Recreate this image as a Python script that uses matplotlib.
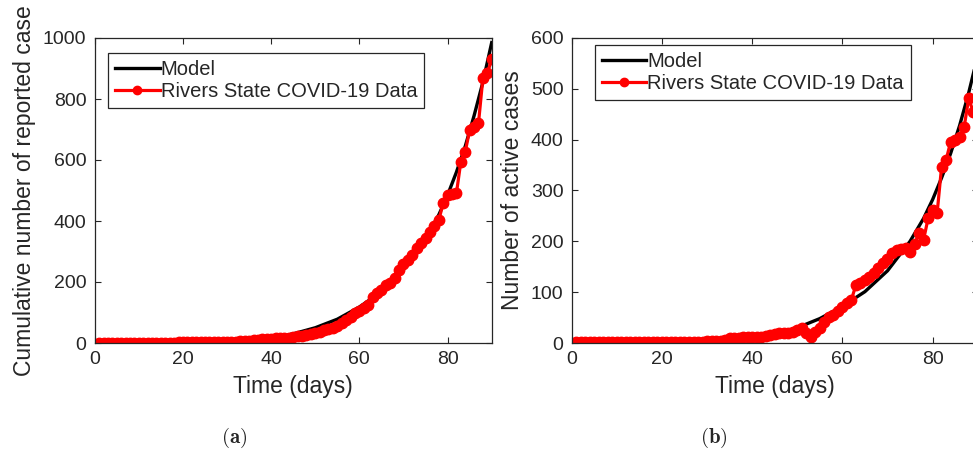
import numpy as np
import matplotlib
matplotlib.use('Agg')
import matplotlib.pyplot as plt

plt.rcParams['font.family'] = ['Liberation Sans', 'DejaVu Sans']
plt.rcParams['mathtext.fontset'] = 'cm'

TXT = '#262626'

# ---------------- data ----------------
days = np.arange(1, 91)

cum_cases = [1, 1, 1, 1, 1, 1, 1, 1, 1, 1,
             1, 1, 1, 1, 1, 1, 1, 1, 2, 2,
             2, 2, 2, 2, 2, 2, 2, 3, 3, 3,
             3, 4, 5, 7, 8, 9, 10, 12, 13, 14,
             15, 16, 17, 18, 20, 22, 24, 27, 30, 33,
             37, 41, 46, 50, 56, 64, 75, 86, 97, 106,
             115, 125, 150, 165, 175, 190, 198, 212, 240, 258,
             272, 290, 310, 327, 345, 365, 385, 403, 458, 485,
             488, 491, 594, 627, 698, 709, 720, 868, 884, 930]

active_cases = [1, 1, 1, 1, 1, 1, 1, 1, 1, 1,
                1, 1, 1, 1, 1, 1, 1, 1, 2, 2,
                2, 2, 2, 2, 2, 2, 2, 2, 2, 3,
                3, 3, 3, 5, 9, 10, 10, 11, 11, 11,
                12, 12, 14, 16, 17, 19, 19, 20, 22, 26,
                29, 20, 12, 22, 29, 42, 52, 55, 62, 70,
                78, 85, 114, 118, 124, 130, 137, 148, 157, 165,
                178, 182, 185, 186, 180, 195, 216, 203, 245, 262,
                255, 347, 360, 396, 400, 406, 425, 481, 455, 465]

model_days = [0, 5, 10, 15, 20, 25, 30, 35, 40, 45, 50, 55, 60, 65,
              70, 75, 78, 80, 82, 84, 86, 88, 90]
model_cum = [0, 0.3, 0.6, 1, 1.5, 2.5, 4, 8, 15, 30, 50, 78, 118, 168,
             240, 342, 420, 485, 560, 645, 745, 855, 985]
model_active = [0, 0.3, 0.6, 1, 1.5, 2.5, 4, 5, 9, 17, 30, 48, 72, 101,
                142, 200, 245, 282, 325, 373, 428, 492, 565]

xticks = [0, 20, 40, 60, 80]
yticks_a = [0, 200, 400, 600, 800, 1000]
yticks_b = [0, 100, 200, 300, 400, 500, 600]


def style_axes(ax):
    ax.tick_params(direction='in', top=True, right=True, length=4,
                   width=0.8, colors=TXT, labelsize=14, pad=6)
    for sp in ax.spines.values():
        sp.set_color(TXT)
        sp.set_linewidth(0.9)


def draw_panel(ax, model, data, yticks, ylabel, leg_xy, tag):
    ax.plot(model_days, model, color='black', lw=2.4, label='Model')
    ax.plot(days, data, color='red', lw=2.3, marker='o', ms=7.5,
            mec='red', mfc='red', label='Rivers State COVID-19 Data')
    ax.set_xlim(0, 90)
    ax.set_ylim(yticks[0], yticks[-1])
    ax.set_xticks(xticks)
    ax.set_yticks(yticks)
    ax.set_xlabel('Time (days)', fontsize=16.5, color=TXT, labelpad=5)
    ax.set_ylabel(ylabel, fontsize=16.5, color=TXT, labelpad=5)
    style_axes(ax)
    leg = ax.legend(loc='upper left', bbox_to_anchor=leg_xy, fontsize=14.5,
                    frameon=True, fancybox=False, framealpha=1,
                    edgecolor=TXT, handlelength=2.2, handletextpad=0.05,
                    borderpad=0.35, labelspacing=0.15, borderaxespad=0,
                    markerscale=0.8)
    leg.get_frame().set_linewidth(0.9)
    for t in leg.get_texts():
        t.set_color(TXT)
    ax.text(0.35, -0.31, tag, transform=ax.transAxes, fontsize=15,
            ha='center', va='center', color=TXT)


fig = plt.figure(figsize=(9.73, 4.55), dpi=100)
ax1 = fig.add_axes([94.7 / 973, 112 / 455, 397 / 973, 305 / 455])
ax2 = fig.add_axes([571.7 / 973, 112 / 455, 406 / 973, 305 / 455])

draw_panel(ax1, model_cum, cum_cases, yticks_a,
           'Cumulative number of reported case', (0.034, 0.951),
           r'$(\mathbf{a})$')
draw_panel(ax2, model_active, active_cases, yticks_b,
           'Number of active cases', (0.057, 0.977),
           r'$(\mathbf{b})$')

fig.savefig('out.png', dpi=100)
